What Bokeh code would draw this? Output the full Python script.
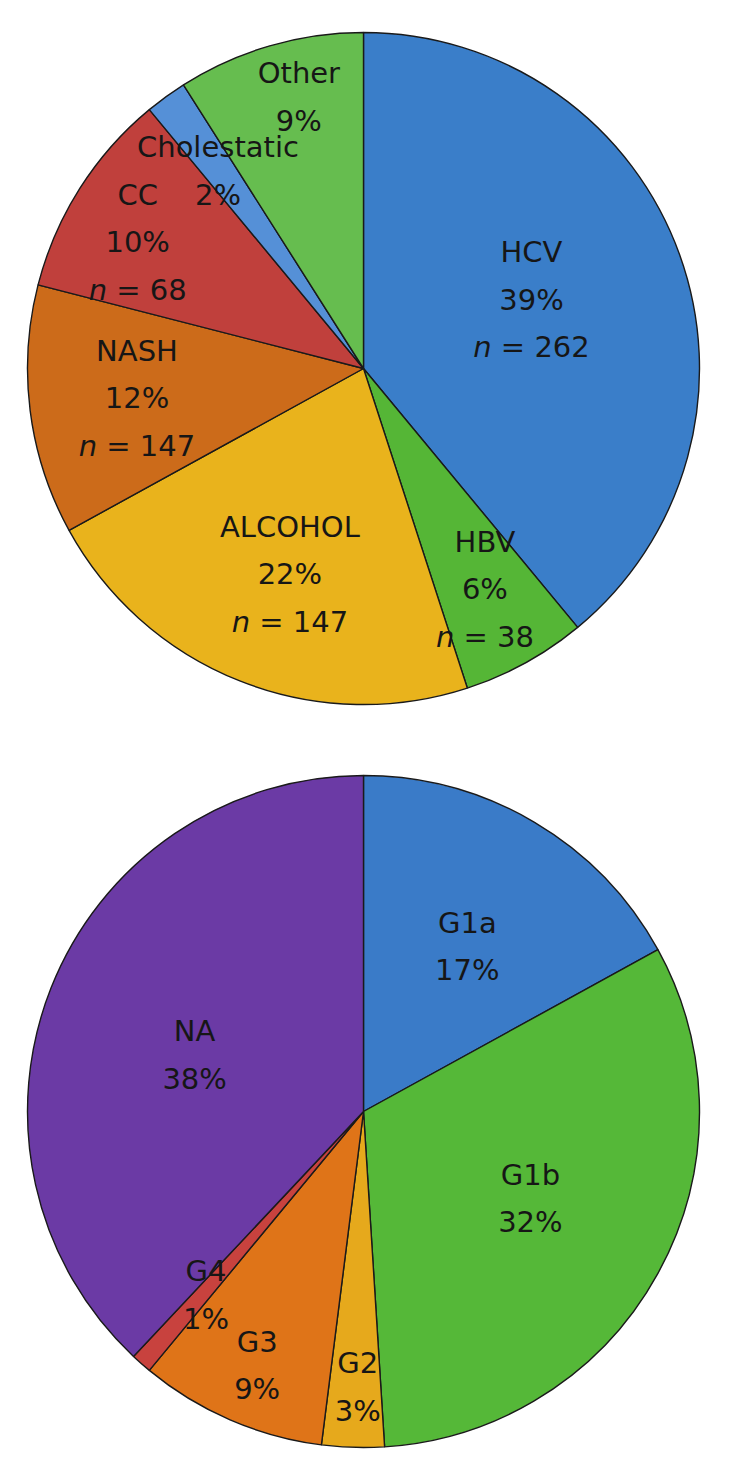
import numpy as np
from bokeh.plotting import figure
from bokeh.models import Range1d
from bokeh.core.properties import value
from bokeh.embed import file_html
from bokeh.resources import INLINE

# ---------------- data ----------------
etiology_labels = ["HCV", "HBV", "ALCOHOL", "NASH", "CC", "Cholestatic", "Other"]
etiology_pct = [39, 6, 22, 12, 10, 2, 9]
etiology_n = [262, 38, 147, 147, 68, None, None]

genotype_labels = ["G1a", "G1b", "G2", "G3", "G4", "NA"]
genotype_pct = [17, 32, 3, 9, 1, 38]

# ---------------- styles / layout ----------------
etiology_colors = ["#3a7ec9", "#55b636", "#e9b31c", "#cc6b1a", "#c0403c", "#5590d7", "#66bd4f"]
genotype_colors = ["#3a7bc8", "#55b838", "#e6a91c", "#df7418", "#c8423e", "#6b3aa5"]
# label block placement: fraction of radius and angle nudge (degrees, clockwise)
etiology_label_r = [0.54, 0.75, 0.65, 0.68, 0.77, 0.73, 0.83]
etiology_label_da = [-2.4, 0.0, -1.9, -0.3, -3.2, -0.4, 2.8]
genotype_label_r = [0.58, 0.56, 0.82, 0.82, 0.72, 0.53]
genotype_label_da = [1.6, -1.3, -0.6, -0.7, -0.8, -3.1]

W, H = 719, 1462
R = 336
FONT = "DejaVu Sans"
FS = 29
LS = 47.5
TXT = "#161616"
NBSP = "\u00a0"

# approximate DejaVu Sans advance widths (em)
CW = {"n": 0.634, " ": 0.318, NBSP: 0.318, "=": 0.838}
for d in "0123456789":
    CW[d] = 0.636


def str_w(s):
    return sum(CW.get(c, 0.62) for c in s) * FS


p = figure(width=W, height=H, x_range=Range1d(0, W), y_range=Range1d(0, H),
           output_backend="svg", toolbar_location=None, min_border=0)
p.axis.visible = False
p.grid.visible = False
p.outline_line_color = None
p.background_fill_color = "white"
p.border_fill_color = "white"


def draw_pie(cx, cy, labels, pcts, colors, label_r, label_da, counts=None):
    pcts = np.array(pcts, dtype=float)
    frac = pcts / pcts.sum()
    ends = np.cumsum(frac)
    starts = ends - frac
    sa = np.pi / 2 - 2 * np.pi * starts
    ea = np.pi / 2 - 2 * np.pi * ends
    p.wedge(x=[cx] * len(pcts), y=[cy] * len(pcts), radius=R,
            start_angle=list(sa), end_angle=list(ea), direction="clock",
            fill_color=colors, line_color="#1a1a1a", line_width=1.4)
    mids = np.pi / 2 - 2 * np.pi * (starts + frac / 2) - np.radians(label_da)
    for i, lab in enumerate(labels):
        lx = cx + label_r[i] * R * np.cos(mids[i])
        ly = cy + label_r[i] * R * np.sin(mids[i])
        lines = [lab, f"{int(pcts[i])}%"]
        has_n = counts is not None and counts[i] is not None
        nlines = 3 if has_n else 2
        ys = [ly + LS * ((nlines - 1) / 2 - k) for k in range(nlines)]
        p.text(x=[lx, lx], y=ys[:2], text=lines, text_font=value(FONT),
               text_font_size=f"{FS}px", text_align="center",
               text_baseline="middle", text_color=TXT)
        if has_n:
            rest = f"{NBSP}={NBSP}{counts[i]}"
            total = str_w("n" + rest)
            xs = lx - total / 2 + str_w("n")
            p.text(x=[xs], y=[ys[2]], text=["n"], text_font=value(FONT),
                   text_font_size=f"{FS}px", text_font_style="italic",
                   text_align="right", text_baseline="middle", text_color=TXT)
            p.text(x=[xs], y=[ys[2]], text=[rest], text_font=value(FONT),
                   text_font_size=f"{FS}px", text_align="left",
                   text_baseline="middle", text_color=TXT)


draw_pie(363, H - 368, etiology_labels, etiology_pct, etiology_colors,
         etiology_label_r, etiology_label_da, etiology_n)
draw_pie(363, H - 1111, genotype_labels, genotype_pct, genotype_colors,
         genotype_label_r, genotype_label_da)

open("out.html", "w").write(file_html(p, INLINE))
